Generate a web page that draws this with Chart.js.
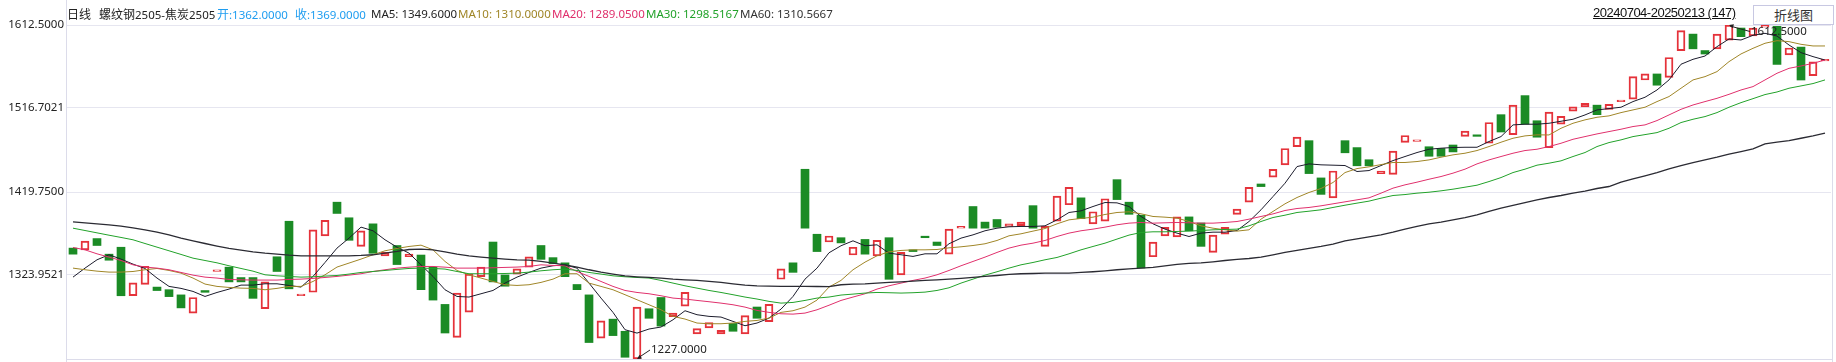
<!DOCTYPE html>
<html>
<head>
<meta charset="utf-8">
<script src="https://cdn.jsdelivr.net/npm/chart.js@4"></script>
<style>
  body { margin: 0; background: #fff; }
  #wrap { position: relative; width: 1836px; height: 362px; overflow: hidden; }
  #c { position: absolute; left: 0; top: 0; }
  .hd { position: absolute; top: 7px; line-height: 14px; font-size: 11.5px;
        font-family: "Noto Sans", "Noto Sans CJK SC", sans-serif; white-space: nowrap; }
  .cn { font-family: "Noto Sans CJK SC", sans-serif; font-size: 12px; }
  #range { position: absolute; left: 1593px; top: 5px; font: 13px "Liberation Sans", Arial, sans-serif;
           letter-spacing: -0.5px; text-decoration: underline; color: #111; }
  #btn { position: absolute; left: 1753px; top: 5px; width: 79px; height: 18px; border: 1px solid #c8c8e2;
         font: 13px "Noto Sans CJK SC", sans-serif; line-height: 18px; text-align: center; color: #333; background: #fff; }
</style>
</head>
<body>
<div id="wrap">
  <canvas id="c" width="1836" height="362"></canvas>
  <span class="hd cn" style="left:67px;color:#222">日线</span>
  <span class="hd" style="left:99px;color:#222"><span class="cn">螺纹钢</span>2505-<span class="cn">焦炭</span>2505</span>
  <span class="hd" style="left:217px;color:#1e9df0"><span class="cn">开</span>:1362.0000</span>
  <span class="hd" style="left:295px;color:#1e9df0"><span class="cn">收</span>:1369.0000</span>
  <span class="hd" style="left:371px;color:#222">MA5: 1349.6000</span>
  <span class="hd" style="left:458px;color:#a08628">MA10: 1310.0000</span>
  <span class="hd" style="left:552px;color:#e0306c">MA20: 1289.0500</span>
  <span class="hd" style="left:646px;color:#22a22a">MA30: 1298.5167</span>
  <span class="hd" style="left:740px;color:#333">MA60: 1310.5667</span>
  <span id="range">20240704-20250213 (147)</span>
  <div id="btn">折线图</div>
</div>

<script>
// daily bars, 螺纹钢2505-焦炭2505 spread
const opens = [
  1355, 1353, 1366, 1348, 1356, 1300, 1313, 1310, 1307, 1301,
  1280, 1306, 1328, 1333, 1321, 1321, 1285, 1345, 1386, 1300,
  1304, 1369, 1408, 1390, 1357, 1383, 1346, 1358, 1345, 1347,
  1333, 1290, 1252, 1281, 1322, 1362, 1324, 1325, 1333, 1358,
  1344, 1338, 1313, 1301, 1251, 1273, 1259, 1227, 1285, 1298,
  1276, 1288, 1256, 1263, 1256, 1268, 1256, 1287, 1270, 1319,
  1338, 1446, 1371, 1362, 1367, 1347, 1365, 1346, 1367, 1324,
  1353, 1368, 1362, 1348, 1378, 1403, 1385, 1388, 1380, 1381,
  1404, 1357, 1386, 1405, 1413, 1383, 1386, 1434, 1408, 1393,
  1345, 1369, 1368, 1391, 1384, 1350, 1371, 1394, 1408, 1429,
  1437, 1451, 1472, 1479, 1436, 1413, 1479, 1471, 1457, 1441,
  1440, 1477, 1478, 1472, 1470, 1474, 1484, 1485, 1476, 1509,
  1486, 1531, 1502, 1471, 1498, 1513, 1518, 1520, 1515, 1524,
  1527, 1549, 1556, 1552, 1583, 1602, 1583, 1585, 1595, 1609,
  1600, 1610, 1611, 1578, 1587, 1554, 1571
];
const closes = [
  1348, 1363, 1358, 1341, 1300, 1315, 1334, 1306, 1299, 1286,
  1298, 1304, 1330, 1316, 1316, 1297, 1316, 1328, 1308, 1302,
  1376, 1387, 1395, 1364, 1375, 1349, 1350, 1336, 1348, 1307,
  1295, 1257, 1303, 1325, 1333, 1316, 1311, 1331, 1345, 1342,
  1337, 1322, 1307, 1246, 1271, 1254, 1229, 1287, 1274, 1265,
  1280, 1304, 1262, 1269, 1260, 1259, 1277, 1274, 1290, 1331,
  1327, 1378, 1351, 1369, 1361, 1356, 1348, 1364, 1319, 1350,
  1351, 1367, 1358, 1377, 1380, 1378, 1378, 1379, 1383, 1385,
  1378, 1380, 1415, 1425, 1389, 1397, 1412, 1411, 1394, 1332,
  1362, 1379, 1391, 1375, 1357, 1370, 1379, 1400, 1425, 1426,
  1446, 1470, 1483, 1441, 1417, 1444, 1465, 1450, 1450, 1444,
  1467, 1485, 1480, 1461, 1461, 1466, 1490, 1484, 1500, 1489,
  1520, 1498, 1483, 1512, 1507, 1518, 1522, 1509, 1521, 1525,
  1553, 1556, 1543, 1575, 1606, 1585, 1579, 1602, 1612.5, 1599,
  1609, 1612, 1567, 1586, 1549, 1570, 1573
];

const ma5 = [
  1321.5, 1331.9, 1341.5, 1347.3, 1342.3, 1336.5, 1331.5, 1320.4, 1310.8, 1308.5,
  1305.0, 1299.2, 1303.8, 1307.7, 1312.3, 1312.3, 1313.8, 1313.8, 1311.9, 1310.0,
  1322.3, 1338.4, 1355.0, 1366.5, 1379.2, 1375.0, 1364.6, 1356.1, 1349.2, 1335.7,
  1322.3, 1306.9, 1299.2, 1298.5, 1302.3, 1306.1, 1314.6, 1321.5, 1326.9, 1331.9,
  1334.6, 1335.7, 1331.9, 1314.6, 1297.3, 1280.8, 1260.8, 1256.9, 1261.6, 1263.9,
  1272.3, 1282.7, 1278.1, 1276.2, 1275.4, 1270.4, 1265.4, 1268.5, 1274.2, 1284.6,
  1299.2, 1319.2, 1331.9, 1349.6, 1357.7, 1363.4, 1357.7, 1358.8, 1349.2, 1347.3,
  1345.4, 1348.4, 1348.4, 1360.0, 1366.5, 1370.3, 1375.0, 1378.0, 1379.6, 1380.0,
  1380.0, 1380.7, 1387.6, 1396.1, 1398.0, 1403.0, 1407.6, 1407.2, 1403.0, 1391.5,
  1383.0, 1376.9, 1372.3, 1368.4, 1372.3, 1373.4, 1373.4, 1375.3, 1385.7, 1399.2,
  1414.5, 1429.9, 1449.1, 1452.2, 1451.1, 1450.7, 1450.3, 1443.4, 1444.5, 1450.3,
  1456.0, 1460.7, 1465.3, 1469.1, 1470.3, 1471.1, 1471.4, 1471.4, 1478.0, 1483.7,
  1497.2, 1498.0, 1498.0, 1499.1, 1501.4, 1503.7, 1508.7, 1514.5, 1516.0, 1517.6,
  1524.1, 1529.1, 1537.5, 1549.1, 1567.2, 1572.9, 1576.7, 1587.5, 1596.4, 1595.2,
  1600.6, 1602.9, 1599.8, 1589.4, 1580.6, 1576.0, 1572.1
];
const ma10 = [
  1331.9, 1330.0, 1328.4, 1327.3, 1327.3, 1328.0, 1330.0, 1331.5, 1329.2, 1326.1,
  1320.4, 1313.5, 1310.8, 1309.6, 1308.8, 1308.5, 1306.9, 1308.5, 1310.8, 1310.8,
  1316.5, 1324.2, 1333.1, 1337.7, 1342.3, 1347.3, 1351.9, 1354.6, 1356.9, 1358.4,
  1353.0, 1339.6, 1329.2, 1324.2, 1320.4, 1316.5, 1312.7, 1311.9, 1312.7, 1315.4,
  1319.2, 1325.4, 1325.4, 1314.6, 1310.8, 1306.9, 1301.2, 1295.4, 1289.6, 1283.8,
  1276.2, 1273.1, 1268.5, 1267.7, 1267.7, 1268.5, 1270.4, 1271.5, 1274.2, 1280.8,
  1282.7, 1286.9, 1295.0, 1310.0, 1317.7, 1330.0, 1338.8, 1346.1, 1350.7, 1352.3,
  1353.0, 1353.0, 1353.4, 1355.3, 1356.5, 1358.0, 1360.0, 1363.8, 1369.2, 1371.5,
  1374.6, 1377.6, 1383.0, 1387.6, 1389.2, 1390.7, 1393.8, 1396.1, 1396.9, 1394.6,
  1391.5, 1390.7, 1389.6, 1385.7, 1380.7, 1378.0, 1376.1, 1374.6, 1376.1, 1388.4,
  1397.3, 1406.1, 1413.4, 1419.2, 1423.8, 1430.7, 1442.2, 1446.8, 1448.8, 1451.4,
  1453.8, 1453.8, 1454.9, 1456.8, 1459.9, 1462.6, 1464.5, 1467.6, 1472.2, 1477.2,
  1481.8, 1484.5, 1485.7, 1485.6, 1493.3, 1499.1, 1503.0, 1506.0, 1507.6, 1511.4,
  1514.5, 1517.6, 1524.1, 1529.9, 1539.5, 1549.1, 1552.9, 1558.7, 1570.2, 1579.1,
  1585.6, 1591.4, 1594.4, 1593.3, 1590.2, 1588.3, 1588.3
];
const ma20 = [
  1355.7, 1353.0, 1348.4, 1344.6, 1340.7, 1335.7, 1333.1, 1331.9, 1330.0, 1326.9,
  1323.8, 1321.5, 1320.4, 1318.8, 1318.4, 1318.1, 1318.1, 1318.1, 1318.8, 1319.2,
  1320.0, 1321.1, 1322.3, 1323.8, 1325.4, 1328.0, 1330.0, 1331.9, 1333.0, 1333.8,
  1333.8, 1333.0, 1331.9, 1331.9, 1331.9, 1332.3, 1332.7, 1333.1, 1333.8, 1335.7,
  1335.0, 1334.6, 1328.0, 1322.3, 1316.5, 1310.8, 1306.1, 1303.8, 1302.3, 1300.0,
  1297.3, 1296.2, 1294.6, 1293.1, 1291.5, 1289.6, 1286.9, 1283.1, 1280.8, 1279.2,
  1278.8, 1280.0, 1283.8, 1289.05, 1294.6, 1298.5, 1302.3, 1307.7, 1311.5, 1314.6,
  1317.7, 1320.4, 1324.2, 1329.2, 1334.6, 1339.6, 1344.6, 1350.0, 1355.0, 1358.4,
  1360.7, 1363.8, 1368.4, 1372.3, 1375.0, 1376.9, 1379.2, 1381.9, 1383.8, 1384.6,
  1383.8, 1384.2, 1384.6, 1384.2, 1383.8, 1383.8, 1384.6, 1385.7, 1388.4, 1391.5,
  1394.5, 1398.4, 1400.7, 1401.9, 1403.8, 1406.1, 1408.4, 1410.7, 1413.0, 1418.4,
  1424.2, 1428.0, 1431.1, 1434.5, 1437.6, 1441.5, 1446.1, 1452.2, 1456.8, 1460.7,
  1464.5, 1467.6, 1469.1, 1472.2, 1476.0, 1480.6, 1483.7, 1486.8, 1489.5, 1492.2,
  1495.3, 1497.2, 1502.2, 1508.7, 1515.2, 1520.2, 1524.1, 1527.9, 1532.5, 1537.5,
  1541.4, 1549.1, 1556.8, 1562.5, 1565.2, 1568.3, 1572.1
];
const ma30 = [
  1378.0, 1375.3, 1372.6, 1369.9, 1367.3, 1364.6, 1360.3, 1356.1, 1351.9, 1347.7,
  1343.4, 1340.7, 1338.0, 1334.6, 1331.5, 1328.4, 1324.2, 1323.0, 1322.3, 1321.5,
  1321.9, 1322.7, 1323.4, 1325.0, 1326.9, 1328.0, 1329.2, 1330.4, 1331.5, 1331.9,
  1331.5, 1330.8, 1328.0, 1325.4, 1325.4, 1325.4, 1325.7, 1326.1, 1327.3, 1328.8,
  1330.0, 1330.8, 1329.2, 1326.9, 1325.0, 1323.0, 1321.9, 1321.1, 1320.4, 1317.7,
  1314.6, 1311.5, 1308.8, 1306.1, 1303.8, 1301.2, 1298.5, 1296.2, 1293.5, 1291.5,
  1292.3, 1294.6, 1297.3, 1298.5167, 1300.8, 1301.9, 1303.1, 1303.8, 1303.5, 1303.1,
  1303.5, 1304.2, 1306.1, 1309.2, 1314.6, 1319.2, 1323.8, 1327.7, 1331.9, 1335.7,
  1338.4, 1341.5, 1344.2, 1348.4, 1353.0, 1356.9, 1360.7, 1365.4, 1370.0, 1373.0,
  1373.8, 1373.8, 1374.2, 1374.6, 1375.3, 1376.1, 1376.5, 1376.9, 1380.7, 1385.7,
  1390.3, 1393.0, 1396.1, 1397.6, 1399.2, 1401.9, 1404.5, 1406.9, 1409.2, 1412.6,
  1415.7, 1416.8, 1418.4, 1419.5, 1421.1, 1423.0, 1425.3, 1427.6, 1431.8, 1436.4,
  1442.2, 1446.1, 1450.7, 1453.0, 1455.7, 1460.7, 1465.3, 1472.2, 1476.8, 1479.9,
  1483.7, 1486.0, 1488.3, 1493.3, 1499.9, 1503.7, 1506.8, 1511.4, 1517.6, 1522.9,
  1527.5, 1532.2, 1535.2, 1539.5, 1542.2, 1544.9, 1549.1
];
const ma60 = [
  1385.3, 1384.2, 1383.0, 1381.9, 1380.3, 1378.4, 1376.1, 1373.4, 1370.3, 1366.5,
  1363.4, 1360.3, 1357.3, 1354.6, 1352.7, 1350.7, 1349.2, 1348.1, 1346.9, 1346.1,
  1346.1, 1346.1, 1346.1, 1346.1, 1346.5, 1347.3, 1349.2, 1351.1, 1353.4, 1353.8,
  1353.0, 1350.7, 1348.0, 1346.1, 1344.6, 1343.4, 1342.3, 1341.5, 1341.1, 1339.6,
  1337.7, 1335.7, 1333.1, 1330.0, 1327.3, 1325.0, 1323.0, 1321.9, 1321.1, 1320.4,
  1319.2, 1318.4, 1317.7, 1316.5, 1315.4, 1313.8, 1312.3, 1311.5, 1311.1, 1310.8,
  1310.8, 1310.8, 1310.7, 1310.5667, 1312.7, 1313.5, 1313.8, 1314.6, 1315.4, 1316.1,
  1316.9, 1317.7, 1318.4, 1319.2, 1320.0, 1321.1, 1322.3, 1323.4, 1324.6, 1325.4,
  1325.7, 1326.1, 1326.1, 1326.1, 1326.9, 1327.7, 1328.8, 1330.0, 1331.1, 1331.9,
  1332.7, 1334.6, 1336.1, 1337.3, 1338.0, 1339.2, 1340.7, 1341.9, 1343.0, 1344.6,
  1347.3, 1350.0, 1352.3, 1354.6, 1356.9, 1359.6, 1363.4, 1365.7, 1368.0, 1370.3,
  1373.4, 1376.9, 1380.0, 1383.0, 1384.9, 1387.6, 1390.3, 1393.4, 1397.3, 1401.1,
  1404.2, 1407.6, 1410.7, 1413.4, 1415.7, 1418.4, 1420.7, 1423.8, 1426.1, 1431.1,
  1434.9, 1438.4, 1442.2, 1446.4, 1450.3, 1453.7, 1456.8, 1459.9, 1463.4, 1466.4,
  1469.5, 1475.3, 1477.2, 1479.1, 1481.8, 1484.5, 1487.6
];

const tickValues = [1612.5, 1516.7021, 1419.75, 1323.9521];
const tickLabels = ["1612.5000", "1516.7021", "1419.7500", "1323.9521"];
const yMin = 1227, yMax = 1612.5;

// extreme marks
const highMark = { index: 138, value: 1612.5, text: "1612.5000" };
const lowMark = { index: 47, value: 1227, text: "1227.0000" };

[opens, closes, ma5, ma10, ma20, ma30, ma60].forEach((a, k) => {
    if (a.length !== 147) throw new Error("series " + k + " has " + a.length);
});

const days = opens.map((_, i) => String(i + 1));

const UP = "#e5323a";
const DOWN = "#1b8b25";

const frame = {
    id: "frame",
    afterDraw(chart) {
        const c = chart.ctx;
        const a = chart.chartArea;
        c.save();
        c.strokeStyle = "#dcdcea";
        c.lineWidth = 1;
        c.beginPath();
        c.moveTo(66.5, 0); c.lineTo(66.5, 362);
        c.moveTo(1832.5, a.top); c.lineTo(1832.5, 362);
        c.moveTo(66.5, Math.round(a.bottom) + 0.5); c.lineTo(1832.5, Math.round(a.bottom) + 0.5);
        c.stroke();

        const x = chart.scales.x, y = chart.scales.y;
        c.fillStyle = "#222";
        c.strokeStyle = "#222";
        c.font = '11.5px "Noto Sans", sans-serif';
        c.textBaseline = "middle";

        function mark(m, dx, dy) {
            const px = x.getPixelForValue(m.index);
            const py = y.getPixelForValue(m.value);
            const tx = px + dx, ty = py + dy;
            c.beginPath();
            c.moveTo(tx - 1, ty);
            c.lineTo(px + 1, py + Math.sign(dy));
            c.stroke();
            // arrow head
            const ang = Math.atan2(py - ty, px - tx);
            c.beginPath();
            c.moveTo(px, py);
            c.lineTo(px - 5 * Math.cos(ang - 0.45), py - 5 * Math.sin(ang - 0.45));
            c.lineTo(px - 5 * Math.cos(ang + 0.45), py - 5 * Math.sin(ang + 0.45));
            c.closePath();
            c.fill();
            c.fillText(m.text, tx, ty);
        }
        mark(highMark, 22, 6.5);
        mark(lowMark, 14, -9);
        c.restore();
    }
};

const maStyle = (label, data, color, w) => ({
    type: "line",
    label,
    data,
    borderColor: color,
    borderWidth: w,
    pointRadius: 0,
    tension: 0,
    order: 0
});

new Chart(document.getElementById("c"), {
    data: {
        labels: days,
        datasets: [
            maStyle("MA60", ma60, "#2b2b33", 1.3),
            maStyle("MA30", ma30, "#22a22a", 1),
            maStyle("MA20", ma20, "#e0306c", 1),
            maStyle("MA10", ma10, "#a08628", 1),
            maStyle("MA5", ma5, "#1c1c2c", 1),
            {
                type: "bar",
                label: "K",
                data: opens.map((o, i) => [o, closes[i]]),
                backgroundColor: ctx => {
                    const i = ctx.dataIndex;
                    return closes[i] >= opens[i] ? "rgba(0,0,0,0)" : DOWN;
                },
                borderColor: ctx => {
                    const i = ctx.dataIndex;
                    return closes[i] >= opens[i] ? UP : DOWN;
                },
                borderWidth: ctx => {
                    const i = ctx.dataIndex;
                    return closes[i] >= opens[i] ? 1.3 : 0;
                },
                borderSkipped: false,
                barThickness: 8,
                minBarLength: 1.5,
                order: 1
            }
        ]
    },
    options: {
        responsive: false,
        animation: false,
        layout: {
            padding: { top: 25, bottom: 3, right: 5, left: 0 }
        },
        plugins: {
            legend: { display: false },
            tooltip: { enabled: false }
        },
        scales: {
            x: {
                display: false,
                offset: true,
                grid: { display: false }
            },
            y: {
                min: yMin,
                max: yMax,
                afterFit(s) {
                    s.width = 67;
                    s.paddingTop = 0;
                    s.paddingBottom = 0;
                },
                afterBuildTicks(s) {
                    s.ticks = tickValues.map(v => ({ value: v }));
                },
                ticks: {
                    padding: 3,
                    color: "#222",
                    font: { family: "Noto Sans", size: 11.5 },
                    callback: v => tickLabels[tickValues.indexOf(v)]
                },
                grid: {
                    color: "#e6e6f0",
                    drawTicks: false
                },
                border: { display: false }
            }
        }
    },
    plugins: [frame]
});
</script>
</body>
</html>
